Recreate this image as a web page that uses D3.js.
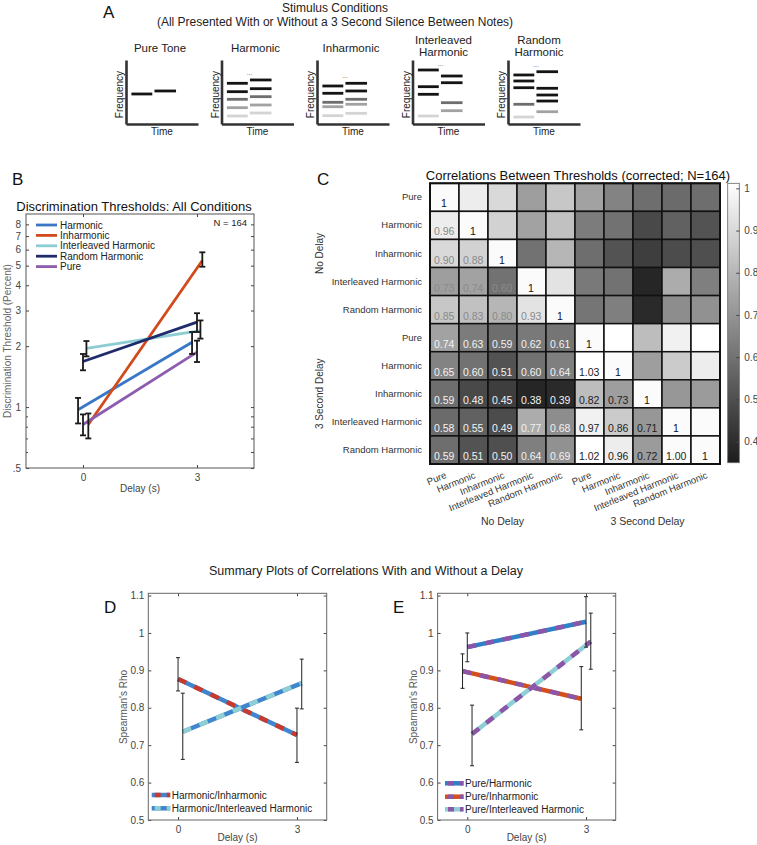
<!DOCTYPE html>
<html><head><meta charset="utf-8">
<script src="https://cdn.jsdelivr.net/npm/d3@7"></script>
<style>
body{margin:0;background:#fff;}
text{font-family:"Liberation Sans",Arial,Helvetica,sans-serif;}
</style>
</head><body>
<svg id="fig" width="757" height="845"></svg>
<script>
// ================= DATA =================
// Panel A: stimulus schematics (frequency in arbitrary units 0-10, shade index 0=black..3=light)
const stimNames = [["Pure Tone"],["Harmonic"],["Inharmonic"],["Interleaved","Harmonic"],["Random","Harmonic"]];
const stimNote1 = [[4.69],[6.36,5.05,3.86,2.55,1.25],[5.94,4.80,3.39,2.70,1.30],[8.44,5.83,4.64,1.25],[7.66,6.72,5.67,3.08,1.09]];
const stimShade1 = [[0],[0,0,1,2,3],[0,0,1,2,3],[0,0,0,3],[0,0,0,1,3]];
const stimNote2 = [[5.16],[6.88,5.52,4.27,2.97,1.72],[6.36,5.16,3.86,3.08,1.67],[7.50,6.45,3.33,2.08],[8.17,5.58,4.53,3.59,1.92]];
const stimShade2 = [[0],[0,0,1,2,3],[0,0,1,2,3],[0,0,1,2],[0,0,0,0,2]];
const stimDots = [false,true,true,true,true];
const shadeColors = ["#141414","#6e6e6e","#a2a2a2","#d4d4d4"];

// Panel B: discrimination thresholds (percent)
const conditions = ["Harmonic","Inharmonic","Interleaved Harmonic","Random Harmonic","Pure"];
const condColors = ["#3a78c6","#d24a1c","#8ccdd3","#1f2c6c","#8e5cae"];
const condOffset = [-0.13, 0.14, 0.09, 0, 0];
const delays = [0, 3];
const threshNoDelay = [0.97, 0.82, 1.95, 1.68, 0.82];
const threshDelay   = [2.09, 5.30, 2.39, 2.63, 1.87];
const errLowNoDelay = [0.83, 0.70, 1.78, 1.52, 0.725];
const errHighNoDelay= [1.11, 0.93, 2.12, 1.83, 0.92];
const errLowDelay   = [1.83, 4.94, 2.18, 2.35, 1.67];
const errHighDelay  = [2.35, 5.82, 2.68, 2.91, 2.13];
const bTicks = [0.5,1,2,3,4,5,6,7,8];
const bTickLabels = [".5","1","2","3","4","5","6","7","8"];
const bMinorTicks = [0.6,0.7,0.8,0.9];

// Panel C: correlation matrix (lower triangle incl. diagonal; symmetric)
const cLabels = ["Pure","Harmonic","Inharmonic","Interleaved Harmonic","Random Harmonic"];
const cGroups = ["No Delay","3 Second Delay"];
const corrLower = [
 [1],
 [0.96,1],
 [0.90,0.88,1],
 [0.73,0.74,0.60,1],
 [0.85,0.83,0.80,0.93,1],
 [0.74,0.63,0.59,0.62,0.61,1],
 [0.65,0.60,0.51,0.60,0.64,1.03,1],
 [0.59,0.48,0.45,0.38,0.39,0.82,0.73,1],
 [0.58,0.55,0.49,0.77,0.68,0.97,0.86,0.71,1],
 [0.59,0.51,0.50,0.64,0.69,1.02,0.96,0.72,1.00,1]
];
const cbTicks = [0.4,0.5,0.6,0.7,0.8,0.9,1];
const cbTickLabels = ["0.4","0.5","0.6","0.7","0.8","0.9","1"];

// Panels D & E: Spearman's rho
const dSeries = ["Harmonic/Inharmonic","Harmonic/Interleaved Harmonic"];
const dColorsA = ["#3f86cf","#3f86cf"];
const dColorsB = ["#c93a2e","#8ecfd5"];
const dOffset = [0.0, 0.12];
const dRho    = [[0.877,0.727],[0.736,0.866]];
const dErrLow = [[0.845,0.654],[0.662,0.797]];
const dErrHigh= [[0.934,0.799],[0.839,0.930]];

const eSeries = ["Pure/Harmonic","Pure/Inharmonic","Pure/Interleaved Harmonic"];
const eColorsA = ["#2f80c9","#d3501c","#8ecfd5"];
const eColorsB = ["#8b55a8","#8b55a8","#8b55a8"];
const eOffset = [0.0, -0.12, 0.12];
const eRho    = [[0.962,1.030],[0.898,0.824],[0.730,0.977]];
const eErrLow = [[0.923,0.962],[0.852,0.741],[0.645,0.903]];
const eErrHigh= [[1.000,1.097],[0.944,0.910],[0.807,1.053]];
const rhoTicks = [0.5,0.6,0.7,0.8,0.9,1,1.1];

// ================= DRAW =================
const svg = d3.select("#fig");
svg.append("rect").attr("width",757).attr("height",845).attr("fill","#fff");
const FONT_COL = "#333";

function letter(t,x,y){ svg.append("text").attr("x",x).attr("y",y).attr("font-size",17).attr("fill","#111").text(t); }

// ---------- Panel A ----------
letter("A",103,18);
svg.append("text").attr("x",335).attr("y",12).attr("text-anchor","middle").attr("font-size",12).attr("fill","#222").text("Stimulus Conditions");
svg.append("text").attr("x",335).attr("y",26).attr("text-anchor","middle").attr("font-size",12).attr("fill","#222").text("(All Presented With or Without a 3 Second Silence Between Notes)");

const miniX = d3.scalePoint().domain(d3.range(5)).range([126,508]);
const tScale = d3.scaleLinear().domain([0,10]).range([0,72]);
const fScale = d3.scaleLinear().domain([0,10]).range([64,0]);
const notesT = [[0.75,3.65],[3.95,6.95]];

stimNames.forEach((nm,i)=>{
  const g = svg.append("g").attr("transform",`translate(${miniX(i)},60)`);
  if(nm.length===1){
    g.append("text").attr("x",34).attr("y",-8).attr("text-anchor","middle").attr("font-size",11.5).attr("fill","#222").text(nm[0]);
  } else {
    g.append("text").attr("x",31).attr("y",-16).attr("text-anchor","middle").attr("font-size",11.5).attr("fill","#222").text(nm[0]);
    g.append("text").attr("x",31).attr("y",-4).attr("text-anchor","middle").attr("font-size",11.5).attr("fill","#222").text(nm[1]);
  }
  const ay = g.append("g").call(d3.axisLeft(fScale).tickValues([]).tickSizeOuter(0));
  ay.select(".domain").attr("stroke","#333").attr("stroke-width",2.6);
  const ax = g.append("g").attr("transform","translate(0,64)").call(d3.axisBottom(tScale).tickValues([]).tickSizeOuter(0));
  ax.select(".domain").attr("stroke","#333").attr("stroke-width",2.6);
  g.append("text").attr("transform",`translate(-3,${fScale(4.6)}) rotate(-90)`).attr("text-anchor","middle").attr("font-size",10).attr("fill","#222").text("Frequency");
  g.append("text").attr("x",tScale(5)).attr("y",75).attr("text-anchor","middle").attr("font-size",10).attr("fill","#222").text("Time");
  const segs = [];
  stimNote1[i].forEach((f,k)=>segs.push({t:notesT[0],f,s:stimShade1[i][k]}));
  stimNote2[i].forEach((f,k)=>segs.push({t:notesT[1],f,s:stimShade2[i][k]}));
  g.selectAll("line.seg").data(segs).join("line").attr("class","seg")
    .attr("x1",d=>tScale(d.t[0])).attr("x2",d=>tScale(d.t[1]))
    .attr("y1",d=>fScale(d.f)).attr("y2",d=>fScale(d.f))
    .attr("stroke",d=>shadeColors[d.s]).attr("stroke-width",2.8);
  if(stimDots[i]){
    const top = d3.max(segs,d=>d.f);
    g.append("text").attr("x",tScale(3.9)).attr("y",Math.max(fScale(top)-5,6)).attr("text-anchor","middle").attr("font-size",7).attr("fill","#666").text("...");
  }
});

// ---------- Panel B ----------
letter("B",12,185);
svg.append("text").attr("x",134).attr("y",211).attr("text-anchor","middle").attr("font-size",13).attr("fill","#111").text("Discrimination Thresholds: All Conditions");
const bx = d3.scaleLinear().domain([-1.5,4.5]).range([26,254]);
const by = d3.scaleLog().domain([0.5,9]).range([468,214]);
const bG = svg.append("g");
function styleAxis(sel){ sel.select(".domain").remove(); sel.selectAll("line").attr("stroke","#444"); sel.selectAll("text").attr("fill","#444").attr("font-size",10); }
bG.append("g").attr("transform",`translate(${bx.range()[0]},0)`).call(d3.axisLeft(by).tickValues(bTicks).tickFormat((d,i)=>bTickLabels[i]).tickSize(-3).tickPadding(5)).call(styleAxis);
bG.append("g").attr("transform",`translate(${bx.range()[0]},0)`).call(d3.axisLeft(by).tickValues(bMinorTicks).tickFormat("").tickSize(-2)).call(styleAxis);
bG.append("g").attr("transform",`translate(${bx.range()[1]},0)`).call(d3.axisRight(by).tickValues(bTicks.concat(bMinorTicks)).tickFormat("").tickSize(-3)).call(styleAxis);
bG.append("g").attr("transform",`translate(0,${by.range()[0]})`).call(d3.axisBottom(bx).tickValues(delays).tickFormat(d3.format("d")).tickSize(-3).tickPadding(6)).call(styleAxis);
bG.append("g").attr("transform",`translate(0,${by.range()[1]})`).call(d3.axisTop(bx).tickValues(delays).tickFormat("").tickSize(-3)).call(styleAxis);
bG.append("rect").attr("x",bx.range()[0]).attr("y",by.range()[1]).attr("width",bx.range()[1]-bx.range()[0]).attr("height",by.range()[0]-by.range()[1]).attr("fill","none").attr("stroke","#555").attr("stroke-width",1);
svg.append("text").attr("x",140).attr("y",492).attr("text-anchor","middle").attr("font-size",10).attr("fill","#444").text("Delay (s)");
svg.append("text").attr("transform","translate(11,341) rotate(-90)").attr("text-anchor","middle").attr("font-size",10).attr("fill","#666").text("Discrimination Threshold (Percent)");

conditions.forEach((c,i)=>{
  const x0 = bx(delays[0]+condOffset[i]), x1 = bx(delays[1]+condOffset[i]);
  bG.append("line").attr("x1",x0).attr("x2",x1).attr("y1",by(threshNoDelay[i])).attr("y2",by(threshDelay[i]))
    .attr("stroke",condColors[i]).attr("stroke-width",2.8);
});
conditions.forEach((c,i)=>{
  [[delays[0],errLowNoDelay[i],errHighNoDelay[i]],[delays[1],errLowDelay[i],errHighDelay[i]]].forEach(([d,lo,hi])=>{
    const x = bx(d+condOffset[i]);
    const g = bG.append("g").attr("stroke","#1a1a1a").attr("stroke-width",1.8);
    g.append("line").attr("x1",x).attr("x2",x).attr("y1",by(lo)).attr("y2",by(hi));
    g.append("line").attr("x1",x-3).attr("x2",x+3).attr("y1",by(lo)).attr("y2",by(lo));
    g.append("line").attr("x1",x-3).attr("x2",x+3).attr("y1",by(hi)).attr("y2",by(hi));
  });
});
conditions.forEach((c,i)=>{
  const y = 225 + i*10.4;
  bG.append("line").attr("x1",36).attr("x2",57).attr("y1",y).attr("y2",y).attr("stroke",condColors[i]).attr("stroke-width",2.8);
  bG.append("text").attr("x",60).attr("y",y+3.5).attr("font-size",10).attr("fill","#222").text(c);
});
bG.append("text").attr("x",247).attr("y",226).attr("text-anchor","end").attr("font-size",9.5).attr("fill","#222").text("N = 164");

// ---------- Panel C ----------
letter("C",317,185);
svg.append("text").attr("x",578).attr("y",180).attr("text-anchor","middle").attr("font-size",13).attr("fill","#111").text("Correlations Between Thresholds (corrected; N=164)");
const n = corrLower.length;
const cx = d3.scaleBand().domain(d3.range(n)).range([430,720]);
const cy = d3.scaleBand().domain(d3.range(n)).range([183.3,464]);
const gray = d3.scaleLinear().domain([0.35,1.012]).range(["#1c1c1c","#ffffff"]).clamp(true);
const cells = [];
for(let i=0;i<n;i++) for(let j=0;j<n;j++){
  const v = j<=i ? corrLower[i][j] : corrLower[j][i];
  cells.push({i,j,v});
}
const cG = svg.append("g");
cG.selectAll("rect.cell").data(cells).join("rect").attr("class","cell")
  .attr("x",d=>cx(d.j)).attr("y",d=>cy(d.i)).attr("width",cx.bandwidth()).attr("height",cy.bandwidth())
  .attr("fill",d=>gray(d.v)).attr("stroke","#111").attr("stroke-width",1.5);
cG.selectAll("text.val").data(cells.filter(d=>d.j<=d.i)).join("text").attr("class","val")
  .attr("x",d=>cx(d.j)+(d.i===d.j?11:4)).attr("y",d=>cy(d.i)+cy.bandwidth()-4)
  .attr("font-size",10.5)
  .attr("fill",d=>{
    if(d.i===d.j) return "#111";
    const a=d.i<5,b=d.j<5;
    if(a&&b) return "#8a8a8a";
    if(!a&&!b) return "#222";
    return "#f2f2f2";
  })
  .text(d=>d.i===d.j?"1":d3.format(".2f")(d.v));
cG.append("rect").attr("x",430).attr("y",183.3).attr("width",290).attr("height",464-183.3).attr("fill","none").attr("stroke","#111").attr("stroke-width",2);
const rowAxis = cG.append("g").attr("transform","translate(430,0)").call(d3.axisLeft(cy).tickSize(0).tickPadding(8).tickFormat(i=>cLabels[i%5]));
rowAxis.select(".domain").remove();
rowAxis.selectAll("text").attr("font-size",9.5).attr("fill",FONT_COL);
cG.selectAll("text.col").data(d3.range(n)).join("text").attr("class","col")
  .attr("transform",i=>`translate(${cx(i)+cx.bandwidth()/2},${471}) rotate(-22)`)
  .attr("text-anchor","end").attr("dy","0.75em").attr("font-size",9.5).attr("fill",FONT_COL)
  .text(i=>cLabels[i%5]);
cGroups.forEach((gname,k)=>{
  const mid = (cx(k*5)+cx(k*5+4)+cx.bandwidth())/2;
  const midY = (cy(k*5)+cy(k*5+4)+cy.bandwidth())/2;
  cG.append("text").attr("x",mid).attr("y",525).attr("text-anchor","middle").attr("font-size",10.5).attr("fill",FONT_COL).text(gname);
  cG.append("text").attr("transform",`translate(323,${midY}) rotate(-90)`).attr("text-anchor","middle").attr("font-size",10).attr("fill",FONT_COL).text(gname);
});
const cbScale = d3.scaleLinear().domain([0.35,1.012]).range([462.7,183.3]);
const defs = svg.append("defs");
const grad = defs.append("linearGradient").attr("id","cbg").attr("x1",0).attr("y1",1).attr("x2",0).attr("y2",0);
d3.range(0,1.0001,0.1).forEach(t=>{
  const v = 0.35 + t*(1.012-0.35);
  grad.append("stop").attr("offset",t).attr("stop-color",gray(v));
});
cG.append("rect").attr("x",727.7).attr("y",183.3).attr("width",11.6).attr("height",462.7-183.3).attr("fill","url(#cbg)").attr("stroke","#666").attr("stroke-width",0.8);
const cbAx = cG.append("g").attr("transform","translate(739.3,0)").call(d3.axisRight(cbScale).tickValues(cbTicks).tickFormat((d,i)=>cbTickLabels[i]).tickSize(-3).tickPadding(5));
styleAxis(cbAx);

// ---------- Panels D & E ----------
svg.append("text").attr("x",366).attr("y",575).attr("text-anchor","middle").attr("font-size",12.5).attr("fill","#222").text("Summary Plots of Correlations With and Without a Delay");

function rhoPanel(x0,x1,names,colA,colB,offs,rho,lo,hi,legY,legX,lab,labX){
  const x = d3.scaleLinear().domain([-0.75,3.75]).range([x0,x1]);
  const y = d3.scaleLinear().domain([0.5,1.106]).range([820,593.3]);
  const g = svg.append("g");
  letter(lab,labX,613);
  g.append("g").attr("transform",`translate(${x0},0)`).call(d3.axisLeft(y).tickValues(rhoTicks).tickFormat(d3.format("")).tickSize(-3).tickPadding(4)).call(styleAxis);
  g.append("g").attr("transform",`translate(${x1},0)`).call(d3.axisRight(y).tickValues(rhoTicks).tickFormat("").tickSize(-3)).call(styleAxis);
  g.append("g").attr("transform","translate(0,820)").call(d3.axisBottom(x).tickValues(delays).tickFormat(d3.format("d")).tickSize(-3).tickPadding(6)).call(styleAxis);
  g.append("g").attr("transform","translate(0,593.3)").call(d3.axisTop(x).tickValues(delays).tickFormat("").tickSize(-3)).call(styleAxis);
  g.append("rect").attr("x",x0).attr("y",593.3).attr("width",x1-x0).attr("height",820-593.3).attr("fill","none").attr("stroke","#666").attr("stroke-width",1);
  g.append("text").attr("x",x(1.5)).attr("y",841).attr("text-anchor","middle").attr("font-size",10).attr("fill","#444").text("Delay (s)");
  g.append("text").attr("transform",`translate(${x0-21},707) rotate(-90)`).attr("text-anchor","middle").attr("font-size",10).attr("fill","#555").text("Spearman's Rho");
  names.forEach((nm,i)=>{
    const xa = x(delays[0]+offs[i]), xb = x(delays[1]+offs[i]);
    g.append("line").attr("x1",xa).attr("x2",xb).attr("y1",y(rho[i][0])).attr("y2",y(rho[i][1])).attr("stroke",colA[i]).attr("stroke-width",4.5);
    g.append("line").attr("x1",xa).attr("x2",xb).attr("y1",y(rho[i][0])).attr("y2",y(rho[i][1])).attr("stroke",colB[i]).attr("stroke-width",4.5).attr("stroke-dasharray","9,9");
  });
  names.forEach((nm,i)=>{
    delays.forEach((d,k)=>{
      const xx = x(d+offs[i]);
      const eg = g.append("g").attr("stroke","#222").attr("stroke-width",1);
      eg.append("line").attr("x1",xx).attr("x2",xx).attr("y1",y(lo[i][k])).attr("y2",y(hi[i][k]));
      eg.append("line").attr("x1",xx-2).attr("x2",xx+2).attr("y1",y(lo[i][k])).attr("y2",y(lo[i][k]));
      eg.append("line").attr("x1",xx-2).attr("x2",xx+2).attr("y1",y(hi[i][k])).attr("y2",y(hi[i][k]));
    });
  });
  names.forEach((nm,i)=>{
    const yy = legY[i];
    g.append("line").attr("x1",legX).attr("x2",legX+18.5).attr("y1",yy).attr("y2",yy).attr("stroke",colA[i]).attr("stroke-width",4.5);
    g.append("line").attr("x1",legX).attr("x2",legX+18.5).attr("y1",yy).attr("y2",yy).attr("stroke",colB[i]).attr("stroke-width",4.5).attr("stroke-dasharray","6,6").attr("stroke-dashoffset",-3);
    g.append("text").attr("x",legX+20).attr("y",yy+3.5).attr("font-size",10).attr("fill","#222").text(nm);
  });
}
rhoPanel(148.3,326.7,dSeries,dColorsA,dColorsB,dOffset,dRho,dErrLow,dErrHigh,[795,808.3],151.7,"D",104);
rhoPanel(437.6,615.7,eSeries,eColorsA,eColorsB,eOffset,eRho,eErrLow,eErrHigh,[783.3,796.7,809.3],445,"E",393);
</script>
</body></html>
